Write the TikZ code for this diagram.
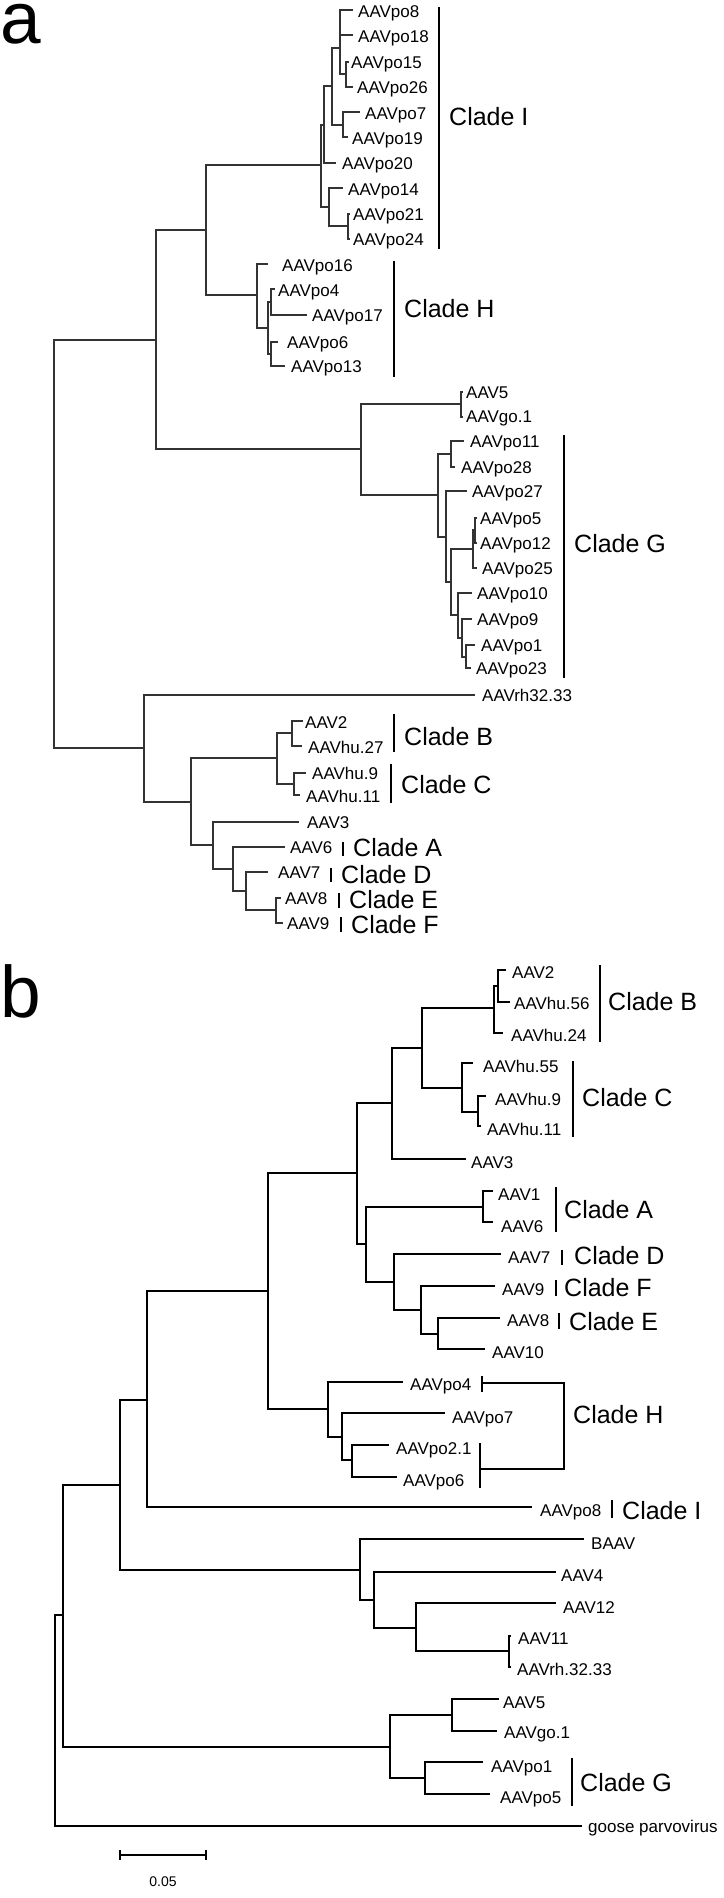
\documentclass[tikz,border=0pt]{standalone}
\usepackage{fontspec}
\setmainfont{Liberation Sans}
\tikzset{
  bra/.style={line width=1.1pt, black!80},
  brb/.style={line width=1.4pt, black},
  cbar/.style={line width=2.6pt, black},
  lab/.style={anchor=west, inner sep=0pt, text height=12.2pt, text depth=0pt, font=\fontsize{17}{17}\selectfont},
  clab/.style={anchor=west, inner sep=0pt, text height=17.9pt, text depth=0pt, font=\fontsize{25}{25}\selectfont},
  panel/.style={anchor=base west, inner sep=0pt, font=\fontsize{73}{73}\selectfont},
}
\begin{document}
\begin{tikzpicture}[x=1pt,y=-1pt]
\useasboundingbox (0,0) rectangle (723,1898);
\fill[white] (0,0) rectangle (723,1898);

% ---------------- panel a ----------------
\node[panel] (pa) at (0,43) {a};
\foreach \n/\x/\y in {aI1/340/48, aI1a/346/74, aI2/332/86, aI3/343/125, aI4/324/125, aI5/321/165, aI6/329/207, aI7/348/226,
  aA2/206/230, aH1/257/295, aH2/268/328, aH3/271/302, aH4/271/354,
  aA1/156/340, aG0/361/449, aG5/461/404, aG1/438/495, aG2/451/454, aG3/446/537, aG4/451/582, aGA/473/549, aGB/475/530, aGC/458/615, aGD/462/638, aGE/466/657,
  aR/54/544, aB0/144/748, aB1/191/802, aB2/277/758, aBB/292/733, aBC/294/784, aB3/213/845, aB4/233/869, aB5/246/891, aB6/276/910,
  ta8/353/10, ta18/353/35, ta15/349/62, ta26/353/87, ta7/360/112, ta19/348/137, ta20/336/163, ta14/343/188, ta21/350/214, ta24/350/239,
  ta16/268/264, ta4/275/289, ta17/307/315, ta6/278/342, ta13/285/366,
  taV5/463/392, tago/463/417, ta11/464/441, ta28/455/467, ta27/467/491, ta5/477/518, ta12/477/543, ta25/477/568, ta10/472/593, ta9/472/619, ta1/475/645, ta23/471/668,
  tarh/475/695, taV2/303/721, tahu27/302/746, tahu9/306/773, tahu11/300/795, taV3/299/822, taV6/285/847, taV7/268/872, taV8/281/898, taV9/283/923}
  \coordinate (\n) at (\x,\y);

\foreach \p/\c in {aI1/ta8, aI1/ta18, aI1/aI1a, aI1a/ta15, aI1a/ta26, aI2/aI1, aI2/aI3, aI3/ta7, aI3/ta19, aI4/aI2, aI4/ta20, aI5/aI4, aI5/aI6, aI6/ta14, aI6/aI7, aI7/ta21, aI7/ta24,
  aA2/aI5, aA2/aH1, aH1/ta16, aH1/aH2, aH2/aH3, aH2/aH4, aH3/ta4, aH3/ta17, aH4/ta6, aH4/ta13,
  aA1/aA2, aA1/aG0, aG0/aG5, aG0/aG1, aG5/taV5, aG5/tago, aG1/aG2, aG1/aG3, aG2/ta11, aG2/ta28, aG3/ta27, aG3/aG4, aG4/aGA, aG4/aGC, aGA/aGB, aGA/ta25, aGB/ta5, aGB/ta12, aGC/ta10, aGC/aGD, aGD/ta9, aGD/aGE, aGE/ta1, aGE/ta23,
  aR/aA1, aR/aB0, aB0/tarh, aB0/aB1, aB1/aB2, aB1/aB3, aB2/aBB, aB2/aBC, aBB/taV2, aBB/tahu27, aBC/tahu9, aBC/tahu11, aB3/taV3, aB3/aB4, aB4/taV6, aB4/aB5, aB5/taV7, aB5/aB6, aB6/taV8, aB6/taV9}
  \draw[bra] (\p) |- (\c);

\foreach \n/\x/\y/\t in {la8/358/11/AAVpo8, la18/358/36/AAVpo18, la15/351/62/AAVpo15, la26/357/87/AAVpo26, la7/365/113/AAVpo7, la19/352/138/AAVpo19, la20/342/163/AAVpo20, la14/348/189/AAVpo14, la21/353/214/AAVpo21, la24/353/239/AAVpo24,
  la16/282/265/AAVpo16, la4/278/290/AAVpo4, la17/312/315/AAVpo17, la6/287/342/AAVpo6, la13/291/366/AAVpo13,
  laV5/466/392/AAV5, lago/466/416/AAVgo.1, la11/470/441/AAVpo11, la28/461/467/AAVpo28, la27/472/491/AAVpo27, la5/480/518/AAVpo5, la12/480/543/AAVpo12, la25/482/568/AAVpo25, la10/477/593/AAVpo10, la9/477/619/AAVpo9, la1/481/645/AAVpo1, la23/476/668/AAVpo23,
  larh/482/695/AAVrh32.33, laV2/305/722/AAV2, lahu27/308/747/AAVhu.27, lahu9/312/773/AAVhu.9, lahu11/306/796/AAVhu.11, laV3/307/822/AAV3, laV6/290/847/AAV6, laV7/278/872/AAV7, laV8/285/898/AAV8, laV9/287/923/AAV9}
  \node[lab] (\n) at (\x,\y) {\t};

% clade bars panel a
\foreach \n/\x/\ya/\yb/\lx/\ly/\t in {cI/439/7/249/449/117/I, cH/394/261/377/404/309/H, cG/564/435/678/574/544/G, cB/394/714/752/404/737/B, cC/391/764/803/401/785/C, cA/343/842/856/353/848/A, cD/331/868/882/341/875/D, cE/339/893/908/349/900/E, cF/341/917/932/351/925/F}
{
  \coordinate (\n t) at (\x,\ya);
  \coordinate (\n b) at (\x,\yb);
  \draw[cbar] (\n t) -- (\n b);
  \node[clab] (\n l) at (\lx,\ly) {Clade \t};
}

% ---------------- panel b ----------------
\node[panel] (pb) at (0,1017) {b};
\foreach \n/\x/\y in {bB2/498/986, bB/494/1008, bC/462/1088, bC2/478/1112, bBC/422/1048, bBC3/392/1103, bP/357/1173, bQ/366/1244, bA/483/1207, bD/394/1282, bF/421/1310, bE/438/1334,
  bH0/268/1291, bH/328/1409, bH2/342/1437, bH3/352/1460, bI/147/1400, bJ/120/1485, bK/360/1570, bL/374/1600, bM/416/1628, bN/509/1651, bO/63/1615, bG0/390/1747, b5/452/1715, bG/425/1778, bR/55/1720,
  tbV2/506/970, tbhu56/510/1002, tbhu24/503/1033, tbhu55/473/1063, tbhu9/486/1096, tbhu11/481/1126, tbV3/466/1159, tbV1/493/1191, tbV6/493/1222, tbV7/501/1254, tbV9/495/1286, tbV8/500/1318, tbV10/485/1349,
  tbpo4/403/1382, tbpo7/445/1413, tbpo21/389/1445, tbpo6/397/1477, tbpo8/532/1507, tbBAAV/584/1539, tbV4/556/1572, tbV12/556/1603, tbV11/511/1636, tbrh/511/1667, tbV5/499/1699, tbgo/497/1731, tbpo1/483/1762, tbpo5/490/1794, tbgoose/582/1826}
  \coordinate (\n) at (\x,\y);

\foreach \p/\c in {bB2/tbV2, bB2/tbhu56, bB/bB2, bB/tbhu24, bC/tbhu55, bC/bC2, bC2/tbhu9, bC2/tbhu11, bBC/bB, bBC/bC, bBC3/bBC, bBC3/tbV3, bP/bBC3, bP/bQ, bQ/bA, bQ/bD, bA/tbV1, bA/tbV6, bD/tbV7, bD/bF, bF/tbV9, bF/bE, bE/tbV8, bE/tbV10,
  bH0/bP, bH0/bH, bH/tbpo4, bH/bH2, bH2/tbpo7, bH2/bH3, bH3/tbpo21, bH3/tbpo6, bI/bH0, bI/tbpo8, bJ/bI, bJ/bK, bK/tbBAAV, bK/bL, bL/tbV4, bL/bM, bM/tbV12, bM/bN, bN/tbV11, bN/tbrh,
  bO/bJ, bO/bG0, bG0/b5, bG0/bG, b5/tbV5, b5/tbgo, bG/tbpo1, bG/tbpo5, bR/bO, bR/tbgoose}
  \draw[brb] (\p) |- (\c);

\foreach \n/\x/\y/\t in {lbV2/512/972/AAV2, lbhu56/514/1003/AAVhu.56, lbhu24/511/1035/AAVhu.24, lbhu55/483/1066/AAVhu.55, lbhu9/495/1099/AAVhu.9, lbhu11/487/1129/AAVhu.11, lbV3/471/1162/AAV3, lbV1/498/1194/AAV1, lbV6/501/1226/AAV6, lbV7/508/1257/AAV7, lbV9/502/1289/AAV9, lbV8/507/1320/AAV8, lbV10/492/1352/AAV10,
  lbpo4/410/1384/AAVpo4, lbpo7/452/1417/AAVpo7, lbpo21/396/1448/AAVpo2.1, lbpo6/403/1480/AAVpo6, lbpo8/540/1510/AAVpo8, lbBAAV/591/1543/BAAV, lbV4/561/1575/AAV4, lbV12/563/1607/AAV12, lbV11/518/1638/AAV11, lbrh/517/1669/AAVrh.32.33, lbV5/503/1702/AAV5, lbgo/504/1732/AAVgo.1, lbpo1/491/1766/AAVpo1, lbpo5/500/1797/AAVpo5, lbgoose/588/1826/goose parvovirus}
  \node[lab] (\n) at (\x,\y) {\t};

\foreach \n/\x/\ya/\yb/\lx/\ly/\t in {dB/600/965/1042/608/1002/B, dC/573/1061/1137/582/1098/C, dA/556/1187/1232/564/1210/A, dD/562/1250/1265/574/1256/D, dF/556/1280/1296/564/1288/F, dE/559/1313/1329/569/1322/E, dI/612/1500/1518/622/1511/I, dG/572/1758/1806/580/1783/G}
{
  \coordinate (\n t) at (\x,\ya);
  \coordinate (\n b) at (\x,\yb);
  \draw[cbar] (\n t) -- (\n b);
  \node[clab] (\n l) at (\lx,\ly) {Clade \t};
}

% clade H bracket panel b
\coordinate (hb1t) at (482,1376);
\coordinate (hb1b) at (482,1392);
\coordinate (hb1m) at (482,1383);
\coordinate (hb2t) at (480,1443);
\coordinate (hb2b) at (480,1488);
\coordinate (hb2m) at (480,1469);
\coordinate (hbc) at (564,1383);
\draw[cbar] (hb1t) -- (hb1b);
\draw[cbar] (hb2t) -- (hb2b);
\draw[brb] (hb1m) -- (hbc) |- (hb2m);
\node[clab] (dHl) at (573,1415) {Clade H};

% scale bar
\coordinate (sb1) at (120,1855);
\coordinate (sb2) at (206,1855);
\draw[brb] (sb1) -- (sb2);
\draw[brb] ([yshift=-5pt]sb1) -- ([yshift=5pt]sb1);
\draw[brb] ([yshift=-5pt]sb2) -- ([yshift=5pt]sb2);
\node[inner sep=0pt, font=\fontsize{14}{14}\selectfont] (sbl) at (163,1882) {0.05};
\end{tikzpicture}
\end{document}
